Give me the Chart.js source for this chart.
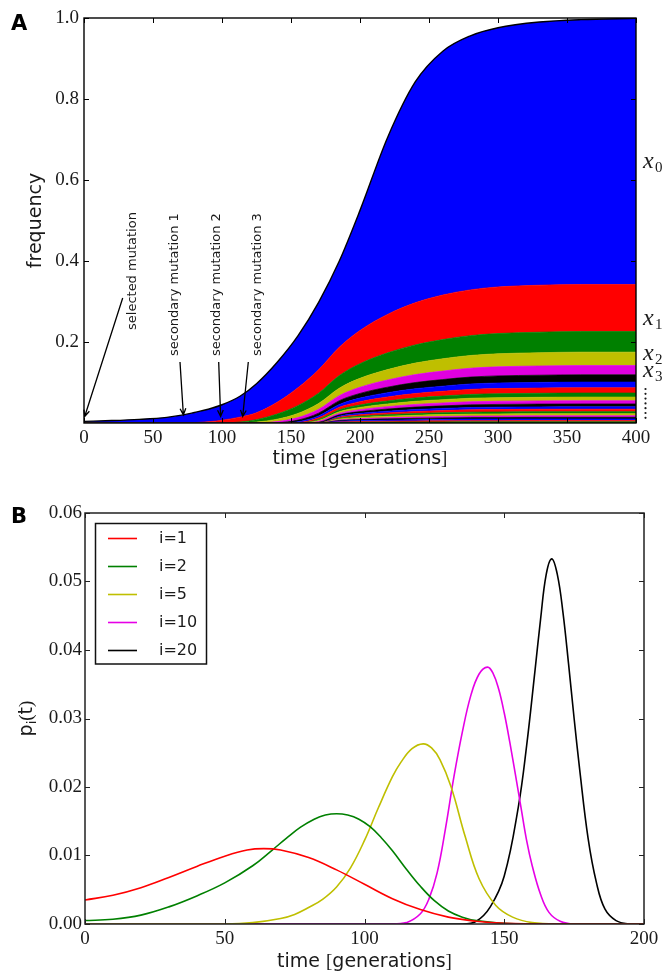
<!DOCTYPE html>
<html>
<head>
<meta charset="utf-8">
<title>Hitchhiking secondary mutations</title>
<script src="https://cdn.jsdelivr.net/npm/chart.js@4.4.1/dist/chart.umd.min.js"></script>
<style>
  body { margin: 0; background: #fff; }
  #wrap { position: relative; width: 667px; height: 974px; }
  canvas { position: absolute; left: 0; }
  #sweepChart { top: 0; }
  #timingChart { top: 480px; }
</style>
</head>
<body>
<div id="wrap">
  <canvas id="sweepChart" width="667" height="480"></canvas>
  <canvas id="timingChart" width="667" height="494"></canvas>
</div>
<script>
// ---- panel A: frequency classes during the sweep ----
const sweepTimes = [0, 20, 40, 60, 72, 80, 90, 100, 113, 125, 140, 155, 170, 185, 200, 220, 240, 260, 280, 300, 330, 360, 400];
// total frequency of the selected allele (top of the stack)
const sweepTotal = [0.004, 0.006, 0.009, 0.014, 0.020, 0.026, 0.034, 0.045, 0.066, 0.097, 0.150, 0.215, 0.298, 0.400, 0.525, 0.705, 0.842, 0.918, 0.956, 0.976, 0.990, 0.996, 0.999];
// x1..x20: carriers of 1..20 secondary mutations
const x1 = [0, 0, 0, 0, 0, 0.001, 0.003, 0.007, 0.012, 0.017, 0.029, 0.044, 0.058, 0.070, 0.082, 0.095, 0.104, 0.110, 0.113, 0.115, 0.116, 0.116, 0.116];
const x2 = [0, 0, 0, 0, 0, 0, 0, 0, 0.0025, 0.006, 0.0128, 0.0194, 0.0255, 0.0311, 0.0362, 0.0413, 0.0449, 0.0474, 0.049, 0.050, 0.0507, 0.051, 0.051];
const x3 = [0, 0, 0, 0, 0, 0, 0, 0, 0, 0.0023, 0.0059, 0.0102, 0.0145, 0.0185, 0.0221, 0.0257, 0.0284, 0.0304, 0.0314, 0.0322, 0.0327, 0.033, 0.033];
const x4 = [0, 0, 0, 0, 0, 0, 0, 0, 0, 0, 0.0028, 0.0062, 0.0094, 0.0124, 0.0152, 0.0177, 0.0196, 0.0209, 0.0219, 0.0224, 0.0228, 0.023, 0.023];
const x5 = [0, 0, 0, 0, 0, 0, 0, 0, 0, 0, 0.0007, 0.004, 0.0068, 0.0094, 0.0115, 0.0137, 0.0153, 0.0164, 0.0171, 0.0176, 0.0178, 0.018, 0.018];
const x6 = [0, 0, 0, 0, 0, 0, 0, 0, 0, 0, 0, 0.0021, 0.0048, 0.007, 0.0088, 0.0105, 0.0118, 0.0126, 0.0133, 0.0137, 0.0139, 0.014, 0.014];
const x7 = [0, 0, 0, 0, 0, 0, 0, 0, 0, 0, 0, 0.001, 0.0039, 0.0062, 0.0081, 0.0098, 0.0109, 0.0117, 0.0124, 0.0127, 0.0129, 0.013, 0.013];
const x8 = [0, 0, 0, 0, 0, 0, 0, 0, 0, 0, 0, 0, 0.0026, 0.0046, 0.0061, 0.0074, 0.0084, 0.009, 0.0095, 0.0098, 0.0099, 0.010, 0.010];
const x9 = [0, 0, 0, 0, 0, 0, 0, 0, 0, 0, 0, 0, 0.0023, 0.0041, 0.0055, 0.0067, 0.0076, 0.0081, 0.0086, 0.0088, 0.0089, 0.009, 0.009];
const x10 = [0, 0, 0, 0, 0, 0, 0, 0, 0, 0, 0, 0, 0.0021, 0.0037, 0.0049, 0.0059, 0.0067, 0.0072, 0.0076, 0.0078, 0.0079, 0.008, 0.008];
const x11 = [0, 0, 0, 0, 0, 0, 0, 0, 0, 0, 0, 0, 0.0018, 0.0032, 0.0043, 0.0052, 0.0059, 0.0063, 0.0067, 0.0068, 0.0069, 0.007, 0.007];
const x12 = [0, 0, 0, 0, 0, 0, 0, 0, 0, 0, 0, 0, 0, 0.0025, 0.0035, 0.0044, 0.005, 0.0054, 0.0057, 0.0059, 0.0059, 0.006, 0.006];
const x13 = [0, 0, 0, 0, 0, 0, 0, 0, 0, 0, 0, 0, 0, 0.0025, 0.0035, 0.0044, 0.005, 0.0054, 0.0057, 0.0059, 0.0059, 0.006, 0.006];
const x14 = [0, 0, 0, 0, 0, 0, 0, 0, 0, 0, 0, 0, 0, 0.0021, 0.003, 0.0037, 0.0042, 0.0045, 0.0048, 0.0049, 0.005, 0.005, 0.005];
const x15 = [0, 0, 0, 0, 0, 0, 0, 0, 0, 0, 0, 0, 0, 0.0021, 0.003, 0.0037, 0.0042, 0.0045, 0.0048, 0.0049, 0.005, 0.005, 0.005];
const x16 = [0, 0, 0, 0, 0, 0, 0, 0, 0, 0, 0, 0, 0, 0.0017, 0.0024, 0.0029, 0.0033, 0.0036, 0.0038, 0.0039, 0.004, 0.004, 0.004];
const x17 = [0, 0, 0, 0, 0, 0, 0, 0, 0, 0, 0, 0, 0, 0.0017, 0.0024, 0.0029, 0.0033, 0.0036, 0.0038, 0.0039, 0.004, 0.004, 0.004];
const x18 = [0, 0, 0, 0, 0, 0, 0, 0, 0, 0, 0, 0, 0, 0.0017, 0.0024, 0.0029, 0.0033, 0.0036, 0.0038, 0.0039, 0.004, 0.004, 0.004];
const x19 = [0, 0, 0, 0, 0, 0, 0, 0, 0, 0, 0, 0, 0, 0.0013, 0.0018, 0.0022, 0.0025, 0.0027, 0.0029, 0.0029, 0.003, 0.003, 0.003];
const x20 = [0, 0, 0, 0, 0, 0, 0, 0, 0, 0, 0, 0, 0, 0.0013, 0.0018, 0.0022, 0.0025, 0.0027, 0.0029, 0.0029, 0.003, 0.003, 0.003];
const classColors = ['#0000ff', '#ff0000', '#008000', '#bfbf00', '#e000e0', '#000000'];

const mutationNotes = ['selected mutation', 'secondary mutation 1', 'secondary mutation 2', 'secondary mutation 3'];
const noteTimes = [0.5, 72, 99, 115];
const noteFreqs = [0.016, 0.020, 0.016, 0.016];

// ---- panel B: establishment time distributions p_i(t) ----
const tI1 = [0, 10, 20, 30, 40, 50, 58, 64, 70, 80, 90, 100, 110, 120, 130, 140, 150, 170, 200];
const pI1 = [0.0035, 0.0042, 0.0053, 0.0068, 0.0084, 0.0099, 0.0108, 0.0110, 0.0108, 0.0097, 0.0079, 0.0058, 0.0037, 0.0021, 0.0010, 0.0004, 0.0001, 0, 0];
const tI2 = [0, 10, 20, 30, 40, 50, 60, 67, 72, 77, 82, 86, 90, 94, 98, 102, 106, 110, 115, 120, 125, 130, 135, 140, 150, 160, 200];
const pI2 = [0.0005, 0.0007, 0.0013, 0.0025, 0.0041, 0.0060, 0.0085, 0.0108, 0.0125, 0.0141, 0.0153, 0.0159, 0.0161, 0.0159, 0.0153, 0.0142, 0.0126, 0.0107, 0.0080, 0.0055, 0.0034, 0.0019, 0.0010, 0.0005, 0.0001, 0, 0];
const tI5 = [0, 50, 60, 70, 75, 80, 85, 90, 95, 100, 105, 110, 113, 117, 121, 124, 127, 131, 136, 141, 147, 153, 160, 170, 200];
const pI5 = [0, 0, 0.0002, 0.0008, 0.0014, 0.0024, 0.0036, 0.0054, 0.0082, 0.0122, 0.0170, 0.0215, 0.0236, 0.0256, 0.0263, 0.0257, 0.0240, 0.0200, 0.0128, 0.0066, 0.0027, 0.0010, 0.0002, 0, 0];
const tI10 = [0, 110, 115, 120, 123, 126, 129, 132, 135, 138, 141, 144, 146, 148, 150, 152, 154, 156, 158, 160, 163, 166, 170, 175, 200];
const pI10 = [0, 0, 0.0002, 0.0015, 0.0036, 0.0075, 0.0140, 0.0215, 0.0280, 0.0333, 0.0365, 0.0375, 0.0366, 0.0343, 0.0308, 0.0265, 0.0218, 0.0170, 0.0122, 0.0085, 0.0043, 0.0017, 0.0004, 0, 0];
const tI20 = [0, 135, 140, 145, 150, 155, 158, 161, 163, 165, 167, 169, 171, 173, 175, 177, 180, 183, 186, 190, 195, 200];
const pI20 = [0, 0, 0.0004, 0.0025, 0.0070, 0.0170, 0.0260, 0.0370, 0.0445, 0.0510, 0.0533, 0.0510, 0.0455, 0.0380, 0.0300, 0.0225, 0.0125, 0.0060, 0.0022, 0.0005, 0, 0];
const curveLabels = ['i=1', 'i=2', 'i=5', 'i=10', 'i=20'];
const curveColors = ['#ff0000', '#008000', '#bfbf00', '#e600e6', '#000000'];

const ink = '#1a1a1a';
const sans = '"DejaVu Sans", sans-serif';
const serif = '"Liberation Serif", serif';
const tickFont = { family: 'Liberation Serif', size: 19 };

function drawFrame(chart, len, width, color) {
  const { ctx, chartArea: a, scales } = chart;
  const x = scales.x, y = scales.y;
  ctx.save();
  ctx.strokeStyle = color;
  ctx.lineWidth = 1;
  ctx.beginPath();
  x.ticks.forEach(t => {
    const px = Math.round(x.getPixelForValue(t.value)) + 0.5;
    ctx.moveTo(px, a.bottom); ctx.lineTo(px, a.bottom - len);
    ctx.moveTo(px, a.top); ctx.lineTo(px, a.top + len);
  });
  y.ticks.forEach(t => {
    const py = Math.round(y.getPixelForValue(t.value)) + 0.5;
    ctx.moveTo(a.left, py); ctx.lineTo(a.left + len, py);
    ctx.moveTo(a.right, py); ctx.lineTo(a.right - len, py);
  });
  ctx.stroke();
  ctx.lineWidth = width;
  ctx.strokeRect(a.left, a.top, a.right - a.left, a.bottom - a.top);
  ctx.restore();
}

// text made of pieces in different fonts, centred on cx
function drawPieces(ctx, pieces, cx, cy) {
  let w = 0;
  pieces.forEach(p => { ctx.font = p[1]; w += ctx.measureText(p[0]).width; });
  let x = cx - w / 2;
  ctx.textAlign = 'left';
  ctx.textBaseline = 'alphabetic';
  pieces.forEach(p => {
    ctx.font = p[1];
    ctx.fillText(p[0], x, cy + (p[2] || 0));
    x += ctx.measureText(p[0]).width;
  });
}

function timeTitle() {
  return [['time ', '19px ' + sans], ['[', '19px ' + serif], ['generations', '19px ' + sans], [']', '19px ' + serif]];
}

function arrow(ctx, x1, y1, x2, y2) {
  const ang = Math.atan2(y2 - y1, x2 - x1);
  const head = 7, spread = 0.42;
  ctx.beginPath();
  ctx.moveTo(x1, y1); ctx.lineTo(x2, y2);
  ctx.moveTo(x2 - head * Math.cos(ang - spread), y2 - head * Math.sin(ang - spread));
  ctx.lineTo(x2, y2);
  ctx.lineTo(x2 - head * Math.cos(ang + spread), y2 - head * Math.sin(ang + spread));
  ctx.stroke();
}

const sweepDecor = {
  id: 'sweepDecor',
  afterDraw(chart) {
    const { ctx, chartArea: a, scales: { x, y } } = chart;
    drawFrame(chart, 5, 1.4, '#000');
    ctx.save();
    ctx.fillStyle = '#000';
    ctx.font = 'bold 21px ' + sans;
    ctx.fillText('A', 11, 30);

    ctx.fillStyle = ink;
    drawPieces(ctx, timeTitle(), (a.left + a.right) / 2, 464);
    ctx.save();
    ctx.translate(41, (a.top + a.bottom) / 2);
    ctx.rotate(-Math.PI / 2);
    drawPieces(ctx, [['frequency', '19px ' + sans]], 0, 0);
    ctx.restore();

    // rotated notes with arrows to where each mutation arises
    const labelX = [133, 175, 217, 258];
    const labelBottom = [330, 356, 356, 356];
    const tails = [[122.7, 298], [180, 362], [218.7, 362], [248.3, 362]];
    ctx.font = '13px ' + sans;
    ctx.textBaseline = 'middle';
    ctx.textAlign = 'left';
    ctx.strokeStyle = '#000';
    ctx.lineWidth = 1.3;
    mutationNotes.forEach((txt, i) => {
      ctx.save();
      ctx.translate(labelX[i], labelBottom[i]);
      ctx.rotate(-Math.PI / 2);
      ctx.fillText(txt, 0, 0);
      ctx.restore();
      arrow(ctx, tails[i][0], tails[i][1], x.getPixelForValue(noteTimes[i]), y.getPixelForValue(noteFreqs[i]));
    });

    // class labels on the right
    const rows = [[0, 168], [1, 325], [2, 360], [3, 377]];
    rows.forEach(([n, base]) => {
      ctx.textBaseline = 'alphabetic';
      ctx.font = 'italic 24px ' + serif;
      ctx.fillText('x', 643, base);
      ctx.font = '15px ' + serif;
      ctx.fillText(String(n), 655, base + 4);
    });
    for (let k = 0; k < 7; k++) {
      ctx.beginPath();
      ctx.arc(645.5, 389 + k * 4.8, 1.1, 0, Math.PI * 2);
      ctx.fill();
    }
    ctx.restore();
  }
};

const timingDecor = {
  id: 'timingDecor',
  afterDraw(chart) {
    const { ctx, chartArea: a } = chart;
    drawFrame(chart, 5, 1.5, '#222');
    ctx.save();
    ctx.fillStyle = '#000';
    ctx.font = 'bold 21px ' + sans;
    ctx.fillText('B', 11, 43);

    ctx.fillStyle = ink;
    drawPieces(ctx, timeTitle(), (a.left + a.right) / 2, 487);
    ctx.save();
    ctx.translate(32, (a.top + a.bottom) / 2);
    ctx.rotate(-Math.PI / 2);
    drawPieces(ctx, [['p', '19px ' + sans], ['i', '13px ' + sans, 4], ['(', '19px ' + serif], ['t', '19px ' + sans], [')', '19px ' + serif]], 0, 0);
    ctx.restore();

    // legend box in the upper left corner
    ctx.fillStyle = '#fff';
    ctx.fillRect(95.5, 43.5, 111, 140.5);
    ctx.strokeStyle = '#111';
    ctx.lineWidth = 1.5;
    ctx.strokeRect(95.5, 43.5, 111, 140.5);
    ctx.font = '16px ' + sans;
    ctx.textBaseline = 'middle';
    ctx.textAlign = 'left';
    chart.data.datasets.forEach((ds, i) => {
      const ry = 58.5 + i * 28;
      ctx.strokeStyle = ds.borderColor;
      ctx.lineWidth = 1.6;
      ctx.beginPath();
      ctx.moveTo(108, ry); ctx.lineTo(137, ry);
      ctx.stroke();
      ctx.fillStyle = ink;
      ctx.fillText(ds.label, 159, ry);
    });
    ctx.restore();
  }
};

// stack: dataset 0 is the class with most mutations, x0 sits on top
const classes = [x1, x2, x3, x4, x5, x6, x7, x8, x9, x10, x11, x12, x13, x14, x15, x16, x17, x18, x19, x20];
const x0 = sweepTotal.map((v, k) => v - classes.reduce((s, c) => s + c[k], 0));
const sweepSets = [x0, ...classes].map((vals, i) => ({
  label: 'x' + i,
  data: vals.map((v, k) => ({ x: sweepTimes[k], y: v })),
  backgroundColor: classColors[i % 6],
  borderColor: i === 0 ? '#000' : classColors[i % 6],
  borderWidth: i === 0 ? 1.4 : 0.7,
  pointRadius: 0,
  cubicInterpolationMode: 'monotone'
})).reverse();
sweepSets.forEach((d, j) => { d.fill = j === 0 ? 'origin' : '-1'; });

new Chart(document.getElementById('sweepChart'), {
  type: 'line',
  data: { datasets: sweepSets },
  options: {
    responsive: false,
    animation: false,
    layout: { padding: { top: 18, right: 31, left: 0, bottom: 0 } },
    plugins: { legend: { display: false }, tooltip: { enabled: false } },
    scales: {
      x: {
        type: 'linear', min: 0, max: 400,
        grid: { display: false, drawTicks: false }, border: { display: false },
        ticks: { stepSize: 50, padding: 4, font: tickFont, color: ink, maxRotation: 0 },
        afterFit: s => { s.height = 57; }
      },
      y: {
        stacked: true, min: 0, max: 1,
        grid: { display: false, drawTicks: false }, border: { display: false },
        ticks: { stepSize: 0.2, padding: 5, font: tickFont, color: ink, callback: v => v === 0 ? null : v.toFixed(1) },
        afterFit: s => { s.width = 84; }
      }
    }
  },
  plugins: [sweepDecor]
});

const curveTimes = [tI1, tI2, tI5, tI10, tI20];
const curveValues = [pI1, pI2, pI5, pI10, pI20];
const timingSets = curveLabels.map((label, i) => ({
  label,
  data: curveValues[i].map((v, k) => ({ x: curveTimes[i][k], y: v })),
  borderColor: curveColors[i],
  borderWidth: 1.6,
  pointRadius: 0,
  fill: false,
  tension: 0.4
}));

new Chart(document.getElementById('timingChart'), {
  type: 'line',
  data: { datasets: timingSets },
  options: {
    responsive: false,
    animation: false,
    layout: { padding: { top: 33, right: 23, left: 0, bottom: 0 } },
    plugins: { legend: { display: false }, tooltip: { enabled: false } },
    scales: {
      x: {
        type: 'linear', min: 0, max: 200,
        grid: { display: false, drawTicks: false }, border: { display: false },
        ticks: { stepSize: 50, padding: 4, font: tickFont, color: ink, maxRotation: 0 },
        afterFit: s => { s.height = 50; }
      },
      y: {
        min: 0, max: 0.06,
        grid: { display: false, drawTicks: false }, border: { display: false },
        ticks: { stepSize: 0.01, padding: 3, font: tickFont, color: ink, callback: v => v.toFixed(2) },
        afterFit: s => { s.width = 85; }
      }
    }
  },
  plugins: [timingDecor]
});
</script>
</body>
</html>
